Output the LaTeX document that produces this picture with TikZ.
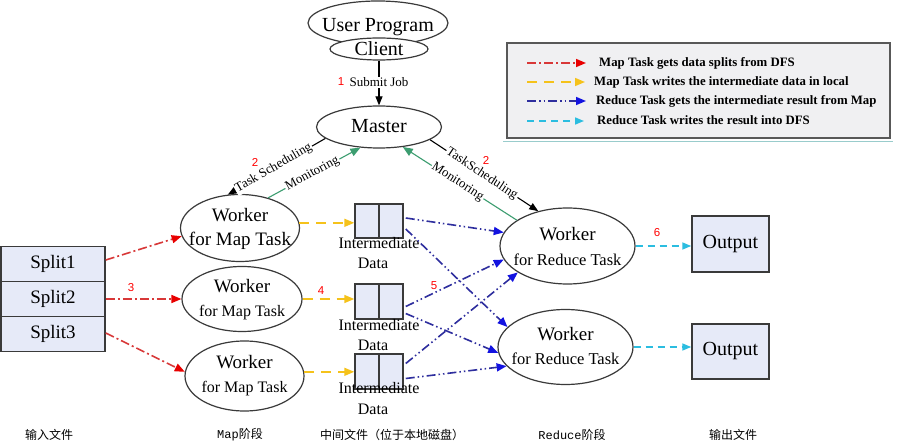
\documentclass[tikz,border=0pt]{standalone}
\usepackage{fontspec}
\setmainfont{Liberation Serif}
\newfontfamily\cjkf{Noto Sans CJK SC}
\newfontfamily\monof{Liberation Mono}
\newfontfamily\numf{Liberation Sans}
\usetikzlibrary{shapes.geometric,arrows.meta}
\newcommand\fsz[1]{\fontsize{#1}{#1}\selectfont}
\definecolor{redc}{HTML}{D83838}
\definecolor{redh}{HTML}{E80000}
\definecolor{yelc}{HTML}{F5C21B}
\definecolor{navc}{HTML}{2E2E9E}
\definecolor{navh}{HTML}{1212E0}
\definecolor{cyac}{HTML}{2BBDE0}
\definecolor{grnc}{HTML}{3C9D70}
\definecolor{boxc}{HTML}{E6EAF8}
\definecolor{legc}{HTML}{F0F0F2}
\definecolor{edgec}{HTML}{3A3A3A}
\begin{document}
\begin{tikzpicture}[x=1pt,y=-1pt,
 ell/.style={ellipse,draw=edgec,line width=1.2pt,fill=white,inner sep=0pt},
 rbox/.style={rectangle,draw=edgec,line width=1.5pt,fill=boxc,inner sep=0pt},
 txt/.style={inner sep=0pt,anchor=base},
 onl/.style={fill=white,inner sep=1pt,font=\fsz{13}},
 num/.style={text=red,font=\numf\fsz{11.5},inner sep=0pt},
 blk/.style={draw=black,line width=1.1pt,-{Triangle[length=9pt,width=7pt]}},
 grn/.style={draw=grnc,line width=1.1pt,-{Triangle[length=10pt,width=8pt,color=grnc]}},
 redl/.style={draw=redc,line width=1.6pt,dash pattern=on 9pt off 3pt on 2pt off 3pt,-{Triangle[length=10pt,width=8pt,color=redh]}},
 yell/.style={draw=yelc,line width=1.6pt,dash pattern=on 10pt off 7pt,-{Triangle[length=10pt,width=8pt,color=yelc]}},
 bluel/.style={draw=navc,line width=1.6pt,dash pattern=on 9pt off 3pt on 1.5pt off 3pt on 1.5pt off 3pt,-{Triangle[length=10pt,width=8pt,color=navh]}},
 cyal/.style={draw=cyac,line width=1.6pt,dash pattern=on 7pt off 5pt,-{Triangle[length=9pt,width=7pt,color=cyac]}},
 bot/.style={font=\cjkf\fsz{12},inner sep=0pt}
]
\useasboundingbox[fill=white] (0,0) rectangle (903,446);

% legend
\draw[draw=teal!40,line width=0.8pt] (503,141) -- (893,141);
\node[draw=edgec!85,line width=1.6pt,fill=legc,minimum width=383,minimum height=95,inner sep=0pt] (legend) at (698.5,90.5) {};
\coordinate (l1a) at (527,63); \coordinate (l1b) at (586,63);
\coordinate (l2a) at (527,82); \coordinate (l2b) at (585,82);
\coordinate (l3a) at (527,101); \coordinate (l3b) at (586,101);
\coordinate (l4a) at (527,121); \coordinate (l4b) at (584,121);
\draw[redl] (l1a) -- (l1b);
\draw[yell] (l2a) -- (l2b);
\draw[bluel] (l3a) -- (l3b);
\draw[cyal] (l4a) -- (l4b);
\node[txt,anchor=base west,font=\bfseries\fsz{12.8}] (lt1) at (599,67) {Map Task gets data splits from DFS};
\node[txt,anchor=base west,font=\bfseries\fsz{12.8}] (lt2) at (594,86) {Map Task writes the intermediate data in local};
\node[txt,anchor=base west,font=\bfseries\fsz{12.8}] (lt3) at (596,105) {Reduce Task gets the intermediate result from Map};
\node[txt,anchor=base west,font=\bfseries\fsz{12.8}] (lt4) at (597,125) {Reduce Task writes the result into DFS};

% top
\node[ell,minimum width=140,minimum height=44] (user) at (378,23) {};
\node[txt,font=\fsz{20}] (usert) at (378,32) {User Program};
\node[ell,minimum width=98,minimum height=22] (client) at (379,49) {};
\node[txt,font=\fsz{20}] (clientt) at (379,56) {Client};
\node[ell,minimum width=125,minimum height=42] (master) at (379,127) {};
\node[txt,font=\fsz{20}] (mastert) at (379,133) {Master};

% map workers
\node[ell,minimum width=119,minimum height=67] (wm1) at (240,228) {};
\node[txt,font=\fsz{19}] (wm1a) at (240,222) {Worker};
\node[txt,font=\fsz{19}] (wm1b) at (240,246) {for Map Task};
\node[ell,minimum width=120,minimum height=65] (wm2) at (242,299) {};
\node[txt,font=\fsz{19}] (wm2a) at (242,293) {Worker};
\node[txt,font=\fsz{16}] (wm2b) at (242,317) {for Map Task};
\node[ell,minimum width=119,minimum height=70] (wm3) at (244.5,376) {};
\node[txt,font=\fsz{19}] (wm3a) at (244.5,369) {Worker};
\node[txt,font=\fsz{16}] (wm3b) at (244.5,393) {for Map Task};

% reduce workers
\node[ell,minimum width=135,minimum height=76] (r1) at (567.5,246) {};
\node[txt,font=\fsz{19}] (r1a) at (567.5,241) {Worker};
\node[txt,font=\fsz{16.5}] (r1b) at (567.5,266) {for Reduce Task};
\node[ell,minimum width=135,minimum height=75] (r2) at (565.5,347) {};
\node[txt,font=\fsz{19}] (r2a) at (565.5,341) {Worker};
\node[txt,font=\fsz{16.5}] (r2b) at (565.5,365) {for Reduce Task};

% splits
\node[rbox,minimum width=104,minimum height=35,font=\fsz{19}] (s1) at (53,264) {Split1};
\node[rbox,minimum width=104,minimum height=35,font=\fsz{19}] (s2) at (53,299) {Split2};
\node[rbox,minimum width=104,minimum height=35,font=\fsz{19}] (s3) at (53,334) {Split3};

% intermediate boxes
\node[rbox,minimum width=48,minimum height=34] (b1) at (379,221) {};
\draw[draw=edgec,line width=1.5pt] (b1.north) -- (b1.south);
\node[rbox,minimum width=48,minimum height=35] (b2) at (379,301.5) {};
\draw[draw=edgec,line width=1.5pt] (b2.north) -- (b2.south);
\node[rbox,minimum width=48,minimum height=35] (b3) at (379,371.5) {};
\draw[draw=edgec,line width=1.5pt] (b3.north) -- (b3.south);
\node[txt,font=\fsz{16}] (b1t) at (379,249) {Intermediate};
\node[txt,font=\fsz{16}] (b1d) at (373,269) {Data};
\node[txt,font=\fsz{16}] (b2t) at (379,331) {Intermediate};
\node[txt,font=\fsz{16}] (b2d) at (373,351) {Data};
\node[txt,font=\fsz{16}] (b3t) at (379,394) {Intermediate};
\node[txt,font=\fsz{16}] (b3d) at (373,414) {Data};

% outputs
\node[rbox,minimum width=77,minimum height=56,font=\fsz{20}] (o1) at (730.5,244) {Output};
\node[rbox,minimum width=77,minimum height=55,font=\fsz{20}] (o2) at (730.5,351.5) {Output};

% control connectors
\draw[blk] (client.south) -- node[onl,pos=0.48]{Submit Job} (master.north);
\draw[blk] (master.192) -- node[onl,sloped,pos=0.53]{Task Scheduling} (wm1.110);
\draw[grn] (wm1.47) -- node[onl,sloped,pos=0.48]{Monitoring} (master.228);
\draw[blk] (master.346) -- node[onl,sloped,pos=0.48]{TaskScheduling} (r1.130);
\draw[grn] (r1.153) -- node[onl,sloped,pos=0.52]{Monitoring} (master.320);

% data flow
\draw[redl] ([yshift=4pt]s1.east) -- (wm1.188);
\draw[redl] (s2.east) -- (wm2.west);
\draw[redl] ([yshift=1pt]s3.east) -- (wm3.176);
\draw[yell] (wm1.5) -- (wm1.5 -| b1.west);
\draw[yell] (wm2.east) -- (wm2.east -| b2.west);
\draw[yell] (wm3.4) -- (wm3.4 -| b3.west);
\draw[bluel] ([xshift=2pt,yshift=3pt]b1.east) -- (r1.168);
\draw[bluel] ([xshift=2pt,yshift=-8pt]b1.east) -- (r2.161);
\draw[bluel] ([xshift=2pt,yshift=-5pt]b2.east) -- (r1.192);
\draw[bluel] ([xshift=2pt,yshift=-12pt]b2.east) -- (r2.185);
\draw[bluel] ([xshift=2pt,yshift=8pt]b3.east) -- (r1.208);
\draw[bluel] ([xshift=2pt,yshift=-7pt]b3.east) -- (r2.198);
\draw[cyal] (r1.east) -- (r1.east -| o1.west);
\draw[cyal] (r2.east) -- (r2.east -| o2.west);

% numbers
\node[num] (n1) at (341,82) {1};
\node[num] (n2a) at (255,162) {2};
\node[num] (n2b) at (486,160) {2};
\node[num] (n3) at (131,288) {3};
\node[num] (n4) at (321,291) {4};
\node[num] (n5) at (434,286) {5};
\node[num] (n6) at (657,233) {6};

% bottom labels
\node[bot] (c1) at (49,435) {输入文件};
\node[bot] (c2) at (240,435) {{\monof Map}阶段};
\node[bot] (c3) at (392,435) {中间文件（位于本地磁盘）};
\node[bot] (c4) at (572,435) {{\monof Reduce}阶段};
\node[bot] (c5) at (733,435) {输出文件};
\end{tikzpicture}
\end{document}
